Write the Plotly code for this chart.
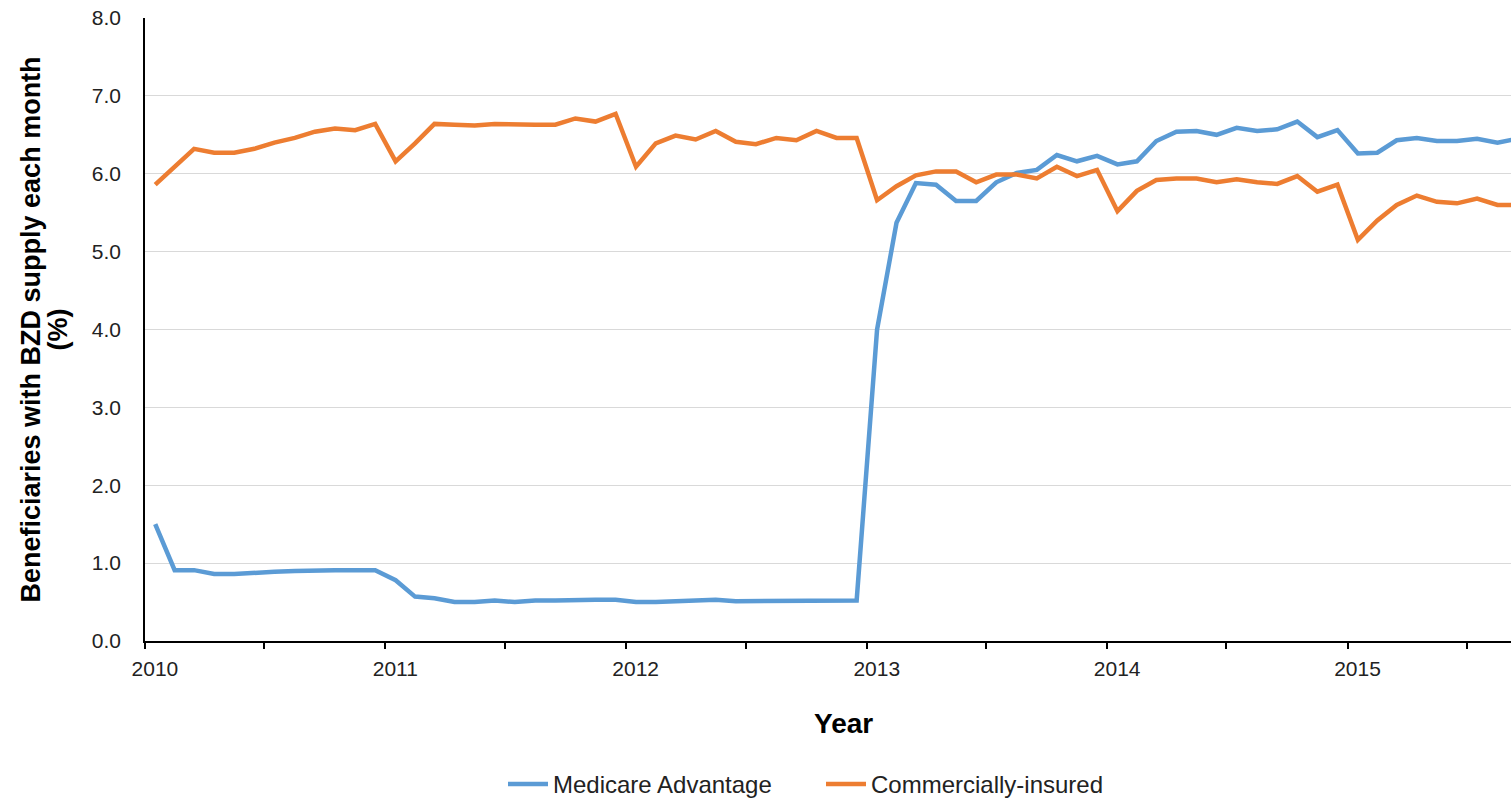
import pandas as pd
import plotly.graph_objects as go

# ---- data ----
months = pd.date_range("2010-01-01", "2015-09-01", freq="MS")
month_labels = [d.strftime("%Y-%m") for d in months]

medicare_advantage = [
    1.50, 0.91, 0.91, 0.86, 0.86, 0.88, 0.89, 0.90, 0.91, 0.91, 0.91, 0.91,
    0.78, 0.57, 0.55, 0.50, 0.50, 0.52, 0.50, 0.52, 0.52, 0.53, 0.53, 0.53,
    0.50, 0.50, 0.51, 0.51, 0.53, 0.51, 0.51, 0.52, 0.52, 0.52, 0.52, 0.52,
    4.00, 5.37, 5.88, 5.86, 5.65, 5.65, 5.89, 6.01, 6.05, 6.24, 6.16, 6.23,
    6.12, 6.16, 6.42, 6.54, 6.55, 6.50, 6.59, 6.55, 6.57, 6.67, 6.47, 6.56,
    6.26, 6.27, 6.43, 6.46, 6.42, 6.42, 6.45, 6.40, 6.45,
]
commercially_insured = [
    5.86, 6.09, 6.32, 6.27, 6.27, 6.32, 6.40, 6.46, 6.54, 6.58, 6.56, 6.64,
    6.16, 6.39, 6.64, 6.63, 6.62, 6.64, 6.63, 6.63, 6.63, 6.71, 6.67, 6.77,
    6.09, 6.39, 6.49, 6.44, 6.55, 6.41, 6.38, 6.46, 6.43, 6.55, 6.46, 6.46,
    5.66, 5.84, 5.98, 6.03, 6.03, 5.89, 5.99, 5.99, 5.94, 6.09, 5.97, 6.05,
    5.52, 5.78, 5.92, 5.94, 5.94, 5.89, 5.93, 5.89, 5.87, 5.97, 5.77, 5.86,
    5.15, 5.40, 5.60, 5.72, 5.64, 5.62, 5.68, 5.60, 5.60,
]
year_labels = ["2010", "2011", "2012", "2013", "2014", "2015"]
y_ticks = [0, 1, 2, 3, 4, 5, 6, 7, 8]

# plot each monthly value at the middle of its month
starts = pd.to_datetime(month_labels, format="%Y-%m")
ends = starts + pd.offsets.MonthBegin(1)
mid = starts + (ends - starts) / 2

label_pos = [pd.Timestamp(f"{y}-01-16") for y in year_labels]
half_years = [pd.Timestamp(f"{y}-{m:02d}-01") for y in year_labels for m in (1, 7)]

BLUE = "#5B9BD5"
ORANGE = "#ED7D31"
FONT = "Liberation Sans, Arial, sans-serif"

fig = go.Figure()
fig.add_trace(go.Scatter(x=mid, y=medicare_advantage, mode="lines",
                         name="Medicare Advantage",
                         line=dict(color=BLUE, width=4.5)))
fig.add_trace(go.Scatter(x=mid, y=commercially_insured, mode="lines",
                         name="Commercially-insured",
                         line=dict(color=ORANGE, width=4.5)))

fig.update_layout(
    width=1511, height=807,
    margin=dict(l=145, r=0, t=18, b=159),
    paper_bgcolor="white", plot_bgcolor="white",
    font=dict(family=FONT, color="black", size=21),
    showlegend=True,
    legend=dict(orientation="h", x=(503 - 145) / 1366, xanchor="left",
                y=-(793 - 648) / 630, yanchor="middle",
                font=dict(size=24, color="#222"),
                itemwidth=40, entrywidth=263, entrywidthmode="pixels"),
    annotations=[
        dict(text="<b>Beneficiaries with BZD supply each month</b>",
             xref="paper", yref="paper", x=-(145 - 30) / 1366, y=0.5,
             xanchor="center", yanchor="middle", textangle=-90,
             showarrow=False, font=dict(size=27, color="black")),
        dict(text="<b>(%)</b>",
             xref="paper", yref="paper", x=-(145 - 57) / 1366, y=0.5,
             xanchor="center", yanchor="middle", textangle=-90,
             showarrow=False, font=dict(size=27, color="black")),
        dict(text="<b>Year</b>",
             xref="paper", yref="paper", x=(843 - 145) / 1366,
             y=-(731 - 648) / 630,
             xanchor="center", yanchor="middle",
             showarrow=False, font=dict(size=28, color="black")),
    ],
)
fig.update_xaxes(
    type="date",
    range=["2010-01-01", "2015-09-06"],
    tickvals=label_pos, ticktext=year_labels,
    ticks="", showgrid=False, ticklabelstandoff=8,
    showline=True, linecolor="black", linewidth=1.5,
    tickfont=dict(size=21, color="#222"),
    minor=dict(ticks="outside", tickvals=half_years,
               ticklen=6, tickcolor="black", tickwidth=1.5, showgrid=False),
    zeroline=False,
)
fig.update_yaxes(
    range=[0, 8], tickvals=y_ticks,
    tickformat=".1f",
    showgrid=True, gridcolor="#D9D9D9", gridwidth=1,
    showline=True, linecolor="black", linewidth=1.5,
    ticks="", zeroline=False, ticklabelstandoff=18,
    tickfont=dict(size=21, color="#222"),
)

page_fix = (
    "var h=document.documentElement,b=document.body;"
    "h.style.margin='0';h.style.padding='0';h.style.overflow='hidden';h.style.height='807px';"
    "b.style.margin='0';b.style.padding='0';b.style.overflow='hidden';b.style.height='807px';"
)
fig.write_html("out.html", config={"displayModeBar": False}, post_script=page_fix)
